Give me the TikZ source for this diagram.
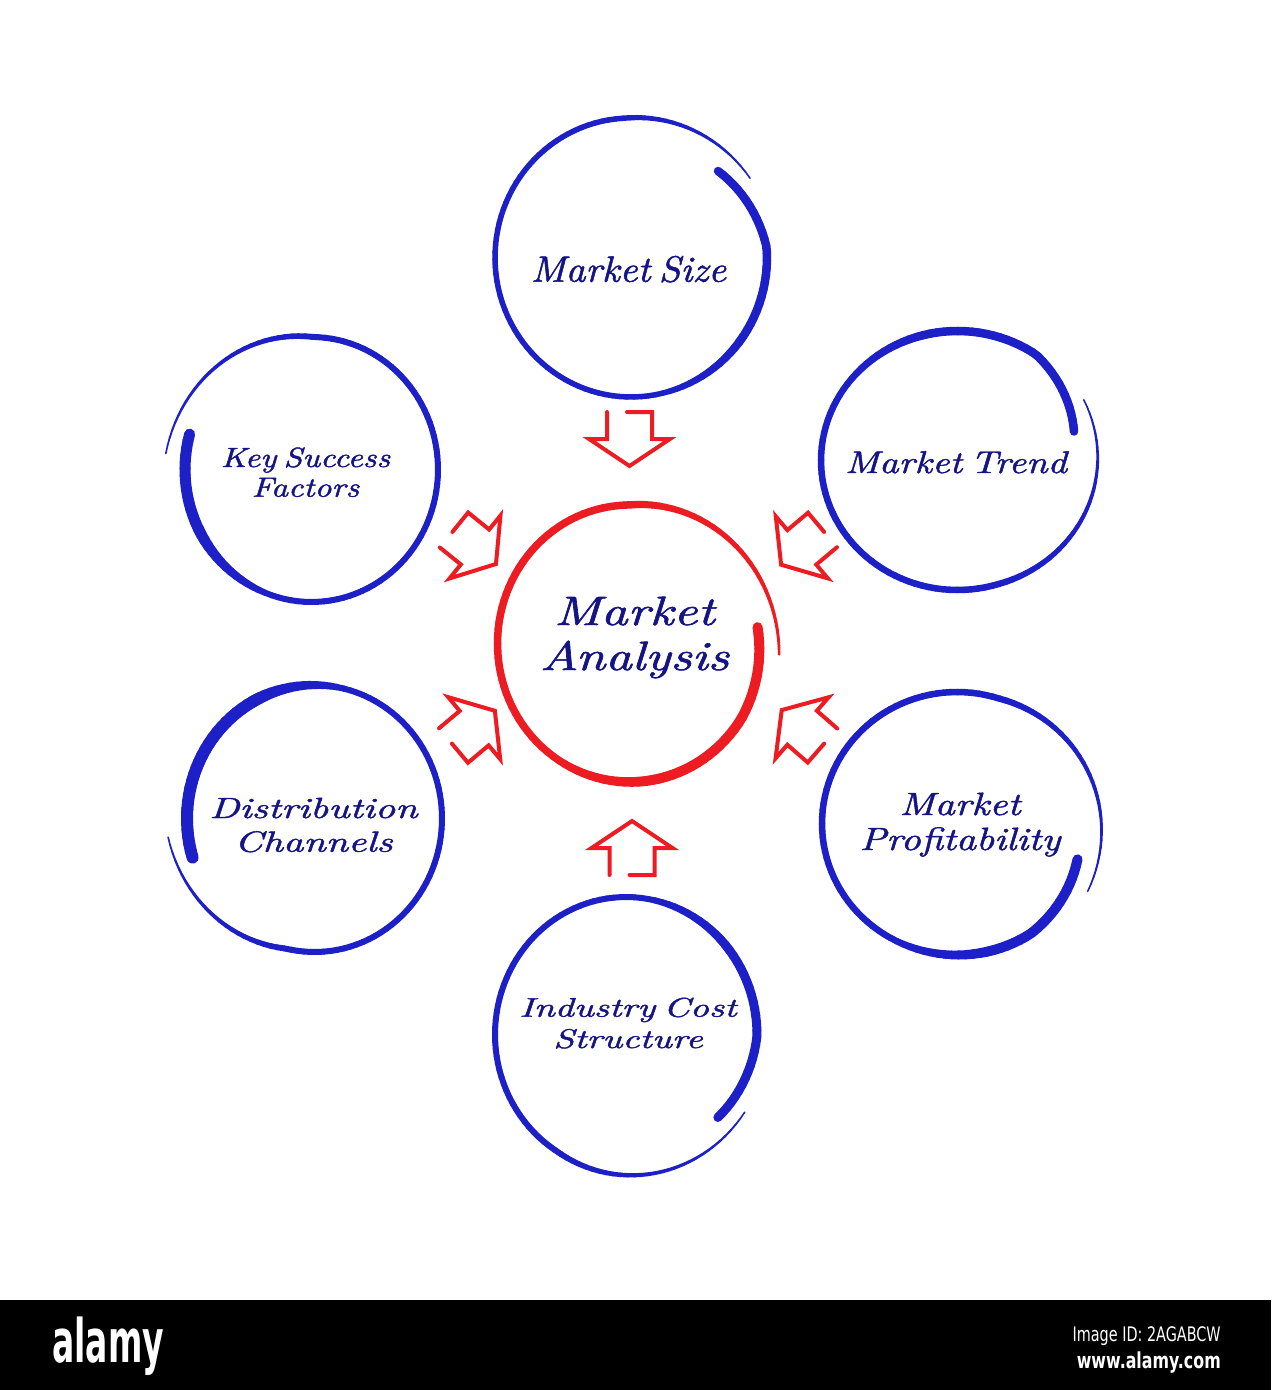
\documentclass[tikz,border=0pt]{standalone}
\usepackage{fontspec}
\newfontfamily\wmfont{DejaVu Sans}
\newfontfamily\handfont{lmroman10-italic.otf}[FakeBold=1.3, WordSpace=0.6]
\definecolor{brushblue}{RGB}{28,32,198}
\definecolor{brushred}{RGB}{236,28,34}
\definecolor{labelnavy}{RGB}{20,20,132}

\pgfkeys{/brush/.is family}
\pgfkeys{/brush/.cd,
  cx/.store in=\bCX, cy/.store in=\bCY, rx/.store in=\bRX, ry/.store in=\bRY,
  start/.store in=\bST, dir/.store in=\bDIR, span/.store in=\bSPAN,
  inset/.store in=\bIN, outset/.store in=\bOUT, outlen/.store in=\bOL,
  thick/.store in=\bTK, w1/.store in=\bWA, w2/.store in=\bWB, w3/.store in=\bWC,
  col/.store in=\bCOL}

\newcommand\brushring[1]{%
  \pgfkeys{/brush/.cd, inset=0, outset=0, outlen=60, thick=60,
    w1=9, w2=5.5, w3=1.5, dir=1, col=brushblue, #1}%
  \pgfmathtruncatemacro\bN{\bSPAN/3}%
  \pgfmathsetmacro\bStep{\bSPAN/\bN}%
  \foreach \i in {1,...,\bN}{%
    \pgfmathsetmacro\bPA{(\i-1)*\bStep}%
    \pgfmathsetmacro\bPB{\i*\bStep}%
    \pgfmathsetmacro\bPM{(\bPA+\bPB)/2}%
    \pgfmathsetmacro\bDA{-(\bIN)*max(0,1-\bPA/40)+(\bOUT)*max(0,(\bPA-\bSPAN+\bOL)/\bOL)}%
    \pgfmathsetmacro\bDB{-(\bIN)*max(0,1-\bPB/40)+(\bOUT)*max(0,(\bPB-\bSPAN+\bOL)/\bOL)}%
    \pgfmathsetmacro\bTA{(\bST)+(\bDIR)*\bPA}%
    \pgfmathsetmacro\bTB{(\bST)+(\bDIR)*\bPB}%
    \pgfmathsetmacro\bW{(\bPM<\bTK) ? \bWA : ((\bPM<\bTK+40) ? (\bWA+(\bWB-\bWA)*(\bPM-\bTK)/40) : ((\bPM>\bSPAN-\bOL) ? (\bWB+(\bWC-\bWB)*(\bPM-\bSPAN+\bOL)/\bOL) : \bWB))}%
    \pgfmathsetmacro\bLW{0.5*\bW}%
    \draw[color=\bCOL, line width=\bLW pt, line cap=round]
      ({\bCX+(\bRX+\bDA)*cos(\bTA)},{\bCY+(\bRY+\bDA)*sin(\bTA)}) --
      ({\bCX+(\bRX+\bDB)*cos(\bTB)},{\bCY+(\bRY+\bDB)*sin(\bTB)});
  }%
}

\tikzset{
  labeltext/.style={text=labelnavy, inner sep=0pt, align=center, anchor=base, transform shape},
  arrowstroke/.style={draw=brushred, line width=2pt, line join=miter, line cap=round},
  pics/blockarrow/.style={code={%
    \draw[arrowstroke] (0,{(#1)*22.5}) -- (27,{(#1)*22.5}) -- (27,{(#1)*40.5})
      -- (54,0) -- (27,{-(#1)*40.5}) -- (27,{-(#1)*22.5}) -- (0,{-(#1)*22.5})
      -- (0,{(#1)*2.5});}}
}

\begin{document}
\begin{tikzpicture}[x=0.5pt,y=-0.5pt]
\useasboundingbox (0,0) rectangle (1271,1390);
\fill[white] (0,0) rectangle (1271,1390);

% brush rings
\brushring{cx=631, cy=257.5, rx=136, ry=139.5, start=-44, dir=1, span=371,
  inset=15, outset=6, outlen=60, thick=80, w1=8.5, w2=5.5, w3=1.5}
\brushring{cx=630, cy=643.5, rx=132.5, ry=138.5, start=-7, dir=1, span=371,
  inset=4, outset=17, outlen=95, thick=90, w1=10, w2=7.5, w3=2.5, col=brushred}
\brushring{cx=311.5, cy=469.5, rx=126.5, ry=132.5, start=195.5, dir=-1, span=369.5,
  inset=0, outset=20, outlen=85, thick=45, w1=11, w2=6, w3=1.5}
\brushring{cx=957.5, cy=460.5, rx=136.5, ry=129.5, start=-14.8, dir=-1, span=372,
  inset=16, outset=5, outlen=100, thick=90, w1=8.5, w2=6.5, w3=1.5}
\brushring{cx=314.5, cy=818.5, rx=127.5, ry=133.5, start=163, dir=1, span=370,
  inset=0, outset=20, outlen=70, thick=80, w1=12, w2=6, w3=1.5}
\brushring{cx=957, cy=823.5, rx=135, ry=131.5, start=17, dir=1, span=371,
  inset=9, outset=13, outlen=100, thick=60, w1=10, w2=6.5, w3=1.5}
\brushring{cx=626, cy=1034.5, rx=131, ry=137.5, start=40.6, dir=-1, span=368.6,
  inset=10, outset=9, outlen=90, thick=80, w1=9, w2=6, w3=1.5}

% labels (multi-line nodes: base = baseline of the last line)
\node[labeltext, font=\handfont\fontsize{18.3}{20}\selectfont, xscale=1.06] (ms) at (628.5,281.7) {Market Size};
\node[labeltext, font=\handfont\fontsize{20.5}{22.5}\selectfont, xscale=1.27] (ma) at (634.5,670) {Market\\Analysis};
\node[labeltext, font=\handfont\fontsize{13.9}{14.85}\selectfont, xscale=1.2] (ksf) at (305.5,496.7) {Key Success\\Factors};
\node[labeltext, font=\handfont\fontsize{15.7}{17}\selectfont, xscale=1.21] (mt) at (956,473) {Market Trend};
\node[labeltext, font=\handfont\fontsize{14.6}{16.85}\selectfont, xscale=1.36] (dc) at (313.5,851.7) {Distribution\\Channels};
\node[labeltext, font=\handfont\fontsize{16.1}{17.5}\selectfont, xscale=1.22] (mp) at (960,850) {Market\\Profitability};
\node[labeltext, font=\handfont\fontsize{13.5}{15.65}\selectfont, xscale=1.38] (ics) at (628,1048) {Industry Cost\\Structure};

% block arrows toward the centre
\pic[rotate=-90] (a-top) at (629.5,412) {blockarrow=1};
\pic[rotate=90] (a-bottom) at (632,875) {blockarrow=-1};
\pic[rotate=-39] (a-ul) at (454,530) {blockarrow=1};
\pic[rotate=-140] (a-ur) at (822.5,530) {blockarrow=-1};
\pic[rotate=40] (a-ll) at (453.5,745.5) {blockarrow=-1};
\pic[rotate=139] (a-lr) at (822.5,745.5) {blockarrow=1};

% stock-image bar
\fill[black] (0,1300) rectangle (1271,1390);
\node[text=white, inner sep=0pt, anchor=base west, transform shape, xscale=0.55,
  font=\wmfont\bfseries\fontsize{30}{31}\selectfont] (wm-logo) at (52,1362) {alamy};
\node[text=white, inner sep=0pt, anchor=base east, transform shape, xscale=0.72,
  font=\wmfont\fontsize{10}{12}\selectfont] (wm-id) at (1221,1341) {Image ID: 2AGABCW};
\node[text=white, inner sep=0pt, anchor=base east, transform shape, xscale=0.72,
  font=\wmfont\bfseries\fontsize{11}{12}\selectfont] (wm-url) at (1221,1368) {www.alamy.com};
\end{tikzpicture}
\end{document}
